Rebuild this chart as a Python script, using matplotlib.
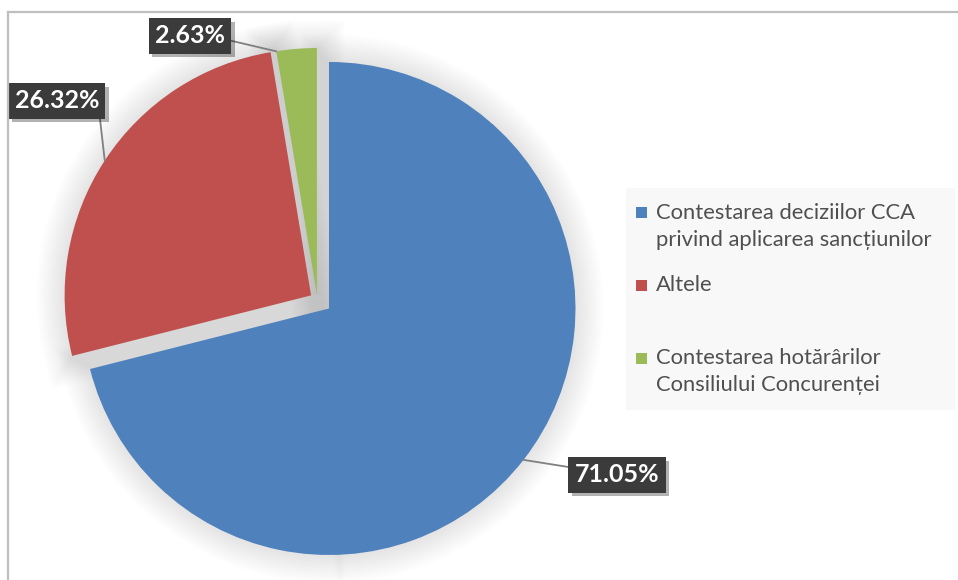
import numpy as np
import matplotlib
matplotlib.use('Agg')
import matplotlib.pyplot as plt
import matplotlib.patheffects as pe
from matplotlib.patches import Wedge, Rectangle
from matplotlib.lines import Line2D

# data
labels = ['Contestarea deciziilor CCA\nprivind aplicarea sancțiunilor',
          'Altele',
          'Contestarea hotărârilor\nConsiliului Concurenței']
values = [71.05, 26.32, 2.63]
colors = ['#4F81BD', '#C0504D', '#9BBB59']
explode = [0.06, 0.03, 0.02]

# layout (data units of the pie, radius = 1)
label_pos = [(1.216, -0.712), (-1.056, 0.805), (-0.516, 1.069)]
label_relpos = [(0, 0.8), (1, 0), (1, 0.35)]
anchor_frac = [0.5, 0.5, 1.0]

W, H = 958, 580
fig = plt.figure(figsize=(W / 100, H / 100), dpi=100)

# chart frame (cut by the image border on the right and bottom)
fig.add_artist(Line2D([8 / W, 8 / W], [0, 1 - 12 / H], color='#bfbfbf', lw=1.6))
fig.add_artist(Line2D([8 / W, 1], [1 - 12 / H, 1 - 12 / H], color='#bfbfbf', lw=1.6))

# pie axes: centre at (317, 299) px, radius 246.5 px
r_px = 246.5
L = 1.3
size = 2 * L * r_px
cx, cy = 317.3, 299.4
ax = fig.add_axes([(cx - size / 2) / W, (H - cy - size / 2) / H, size / W, size / H])

wedges, _ = ax.pie(values, colors=colors, startangle=90, counterclock=False,
                   explode=explode, radius=1, wedgeprops=dict(linewidth=0))
for w in wedges:
    w.set_zorder(3)
    # soft outer shadow
    sh = Wedge(w.center, w.r, w.theta1, w.theta2, facecolor='none',
               edgecolor='none', zorder=1)
    sh.set_path_effects([pe.Stroke(linewidth=lw, foreground='#000000', alpha=0.007)
                         for lw in range(40, 0, -3)])
    ax.add_patch(sh)

ax.set_xlim(-L, L)
ax.set_ylim(-L, L)
ax.set_aspect('equal')
ax.axis('off')

# data labels
for w, v, pos, rp, fr in zip(wedges, values, label_pos, label_relpos, anchor_frac):
    ang = np.deg2rad(w.theta1 + fr * (w.theta2 - w.theta1))
    xy = (w.center[0] + w.r * np.cos(ang), w.center[1] + w.r * np.sin(ang))
    t = ax.annotate(f'{v:.2f}%', xy=xy, xytext=pos, ha='center', va='center',
                    fontsize=18, fontweight='bold', color='white',
                    family=['Lato', 'DejaVu Sans'], zorder=6,
                    bbox=dict(boxstyle='square,pad=0.25', fc='#3b3b3b', ec='none'),
                    arrowprops=dict(arrowstyle='-', color='#808080', lw=1.3,
                                    relpos=rp, shrinkA=0, shrinkB=0))
    t.get_bbox_patch().set_path_effects([
        pe.SimplePatchShadow(offset=(2.5, -2.5), shadow_rgbFace='#000000', alpha=0.3),
        pe.Normal()])

# legend (manual, Excel-like spacing)
fig.add_artist(Rectangle((626 / W, 1 - 410 / H), (955 - 626) / W, (410 - 188) / H,
                         transform=fig.transFigure, fc='#f8f8f8', ec='none', zorder=0))
first_line_y = [213, 285, 358]
line_h = 27
for lab, col, y0 in zip(labels, colors, first_line_y):
    fig.add_artist(Rectangle((636 / W, 1 - (y0 + 5.5) / H), 11 / W, 11 / H,
                             transform=fig.transFigure, fc=col, ec='none'))
    for i, line in enumerate(lab.split('\n')):
        fig.text(656 / W, 1 - (y0 + i * line_h) / H, line, ha='left', va='center',
                 fontsize=15.8, color='#505050', family=['Lato', 'DejaVu Sans'])

fig.savefig('out.png', dpi=100)
